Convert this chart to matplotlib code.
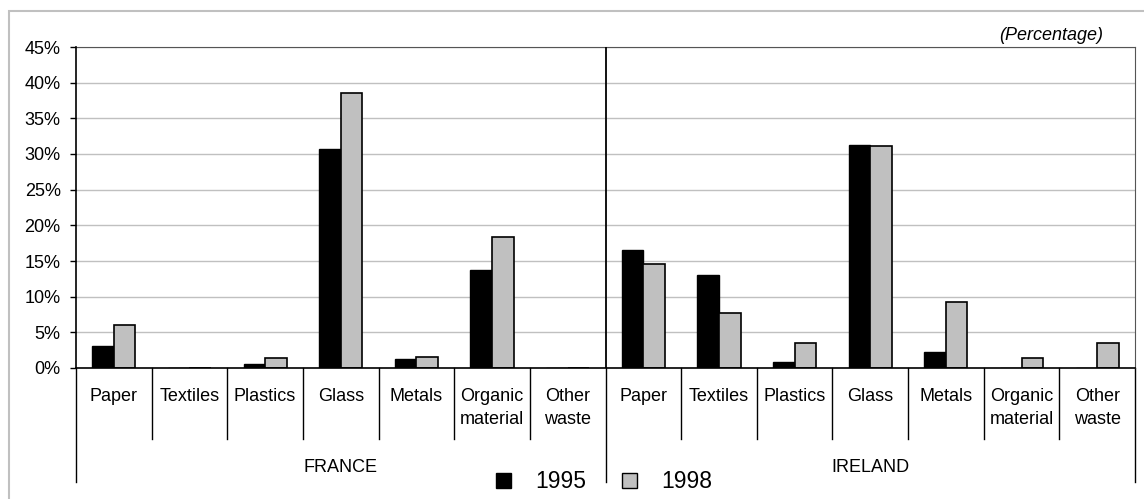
import matplotlib
matplotlib.use("Agg")
import matplotlib.pyplot as plt
import matplotlib.transforms as mtransforms
from matplotlib.patches import Patch, Rectangle
from matplotlib.ticker import PercentFormatter

plt.rcParams['font.family'] = ['Liberation Sans', 'DejaVu Sans']

categories = ['Paper', 'Textiles', 'Plastics', 'Glass', 'Metals',
              'Organic\nmaterial', 'Other\nwaste']
countries = ['FRANCE', 'IRELAND']
france_1995 = [3.1, 0.0, 0.5, 30.7, 1.2, 13.7, 0.0]
france_1998 = [6.0, 0.0, 1.4, 38.5, 1.6, 18.3, 0.0]
ireland_1995 = [16.5, 13.1, 0.8, 31.2, 2.2, 0.0, 0.0]
ireland_1998 = [14.6, 7.7, 3.5, 31.1, 9.3, 1.4, 3.5]
years = ['1995', '1998']

vals_1995 = [v / 100 for v in france_1995 + ireland_1995]
vals_1998 = [v / 100 for v in france_1998 + ireland_1998]
labels = categories + categories
x = list(range(len(labels)))

W, H = 1144, 499
fig = plt.figure(figsize=(W / 100, H / 100), dpi=100)

# outer light gray border
fig.patches.append(Rectangle((9 / W, -0.1), 1.1, (H - 11) / H + 0.1,
                             transform=fig.transFigure, fill=False,
                             edgecolor='#c0c0c0', linewidth=1.5))

left, right, top, bottom = 76, 1135, 47, 368
ax = fig.add_axes([left / W, (H - bottom) / H, (right - left) / W, (bottom - top) / H])

bw = 0.285
ax.bar([i - bw / 2 for i in x], vals_1995, width=bw, color='black',
       edgecolor='black', linewidth=1.0, zorder=3)
ax.bar([i + bw / 2 for i in x], vals_1998, width=bw, color='#c0c0c0',
       edgecolor='black', linewidth=1.2, zorder=3)

ax.set_xlim(-0.5, len(labels) - 0.5)
ax.set_ylim(0, 0.45)
ax.set_yticks([i * 0.05 for i in range(10)])
ax.yaxis.set_major_formatter(PercentFormatter(1.0, decimals=0))
ax.tick_params(axis='y', labelsize=13, length=4, width=1, pad=7, direction='out')
ax.set_xticks([])
ax.grid(axis='y', color='#c0c0c0', linewidth=1, zorder=0)
for s in ['top', 'right']:
    ax.spines[s].set_color('#555555')
for s in ['left', 'bottom']:
    ax.spines[s].set_color('black')
    ax.spines[s].set_linewidth(1.2)
    ax.spines[s].set_zorder(5)
ax.axvline(6.5, color='black', linewidth=1.3, zorder=4)

trans = mtransforms.blended_transform_factory(ax.transData, ax.transAxes)
ph = bottom - top
short_y = (bottom - 439) / ph
long_y = (bottom - 482) / ph
for b in range(len(labels) + 1):
    xb = b - 0.5
    yb = long_y if b in (0, 7, 14) else short_y
    ax.plot([xb, xb], [0, yb], color='black', linewidth=1, transform=trans,
            clip_on=False)

for i, lab in enumerate(labels):
    ax.text(i, (bottom - 388) / ph, lab, transform=trans, ha='center', va='top',
            fontsize=13, linespacing=1.5)

for j, c in enumerate(countries):
    ax.text(3 + 7 * j, (bottom - 467) / ph, c, transform=trans, ha='center',
            va='center', fontsize=13)

fig.text(1103 / W, (H - 36) / H, '(Percentage)', ha='right', va='center',
         fontsize=13, style='italic')

handles = [Patch(facecolor='black', edgecolor='black'),
           Patch(facecolor='#c0c0c0', edgecolor='black')]
fig.legend(handles, years, loc='center', bbox_to_anchor=(604 / W, (H - 482) / H),
           ncol=2, frameon=False, fontsize=16.5, handlelength=0.68,
           handleheight=0.68, handletextpad=1.05, columnspacing=1.55)

fig.savefig('out.png', dpi=100)
